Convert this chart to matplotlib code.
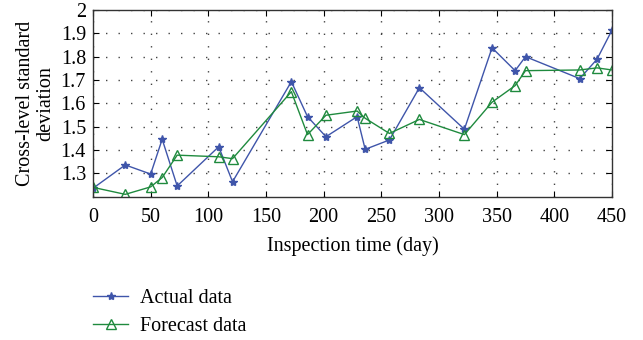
import matplotlib
matplotlib.use("Agg")
import matplotlib.pyplot as plt

plt.rcParams['font.family'] = ['Liberation Serif', 'DejaVu Serif']

days = [0, 28, 50, 60, 73, 109, 121, 172, 186, 202, 229, 236, 257, 283, 322, 346, 366, 375, 422, 437, 450]
actual = [1.236, 1.336, 1.297, 1.446, 1.246, 1.414, 1.264, 1.693, 1.543, 1.457, 1.543, 1.403, 1.443, 1.667,
          1.489, 1.838, 1.740, 1.800, 1.706, 1.789, 1.914]
forecast = [1.240, 1.210, 1.242, 1.282, 1.378, 1.371, 1.363, 1.650, 1.466, 1.549, 1.567, 1.536, 1.471, 1.531,
            1.466, 1.605, 1.676, 1.740, 1.743, 1.752, 1.743]
xticks = [0, 50, 100, 150, 200, 250, 300, 350, 400, 450]
yticks = [1.3, 1.4, 1.5, 1.6, 1.7, 1.8, 1.9, 2.0]
yticklabels = ['1.3', '1.4', '1.5', '1.6', '1.7', '1.8', '1.9', '2']

blue = '#3f55aa'
green = '#1f8a3e'
fs = 14.5

fig = plt.figure(figsize=(6.43, 3.40), dpi=100)
ax = fig.add_axes([0.1446, 0.4215, 0.9518 - 0.1446, 0.9706 - 0.4215])

l1, = ax.plot(days, actual, color=blue, lw=1.0, marker='*', ms=6, mfc=blue, mec=blue, label='Actual data')
l2, = ax.plot(days, forecast, color=green, lw=1.0, marker='^', ms=6.5, mfc='none', mec=green, mew=1.0,
              label='Forecast data')

ax.set_xlim(0, 450)
ax.set_ylim(1.2, 2.0)
ax.set_xticks(xticks)
ax.set_yticks(yticks)
ax.set_yticklabels(yticklabels)
ax.grid(True, linestyle=(0, (1, 8)), color='#444444', linewidth=1.0)
ax.tick_params(direction='in', top=True, right=True, labelsize=fs, length=4)
ax.tick_params(axis='x', pad=8)
ax.tick_params(axis='y', pad=5)
for s in ax.spines.values():
    s.set_linewidth(1.0)
    s.set_color('#333333')

ax.set_xlabel('Inspection time (day)', fontsize=fs, labelpad=7)
ax.set_ylabel('Cross-level standard\ndeviation', fontsize=fs, linespacing=1.05, labelpad=4)

fig.legend(handles=[l1, l2], loc='upper left', bbox_to_anchor=(0.132, 0.175), frameon=False,
           fontsize=fs, handlelength=1.75, handletextpad=0.6, labelspacing=0.45, borderaxespad=0)

fig.savefig('out.png', dpi=100)
